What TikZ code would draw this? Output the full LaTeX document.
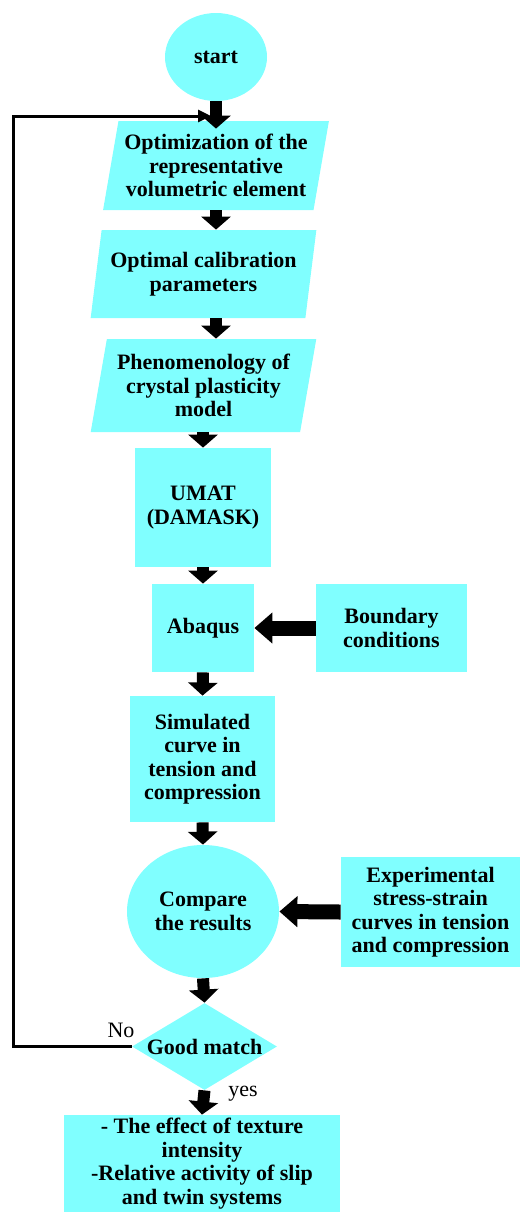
\documentclass[tikz,border=0pt]{standalone}
\usepackage{fontspec}
\setmainfont{Liberation Serif}
\usetikzlibrary{shapes.geometric,arrows.meta}
\definecolor{boxcyan}{RGB}{128,255,255}

\begin{document}
\begin{tikzpicture}[x=0.5pt,y=-0.5pt,
  every node/.style={font=\fontsize{11}{11.75}\selectfont\bfseries,align=center,inner sep=0pt},
  procbox/.style={rectangle,fill=boxcyan},
  iobox/.style={trapezium,trapezium left angle=77,trapezium right angle=103,
    trapezium stretches=true,fill=boxcyan,minimum width=113pt},
  termbox/.style={ellipse,fill=boxcyan},
  flow/.style={line width=6pt,-{Triangle[width=14.5pt,length=6.5pt]}},
  sideflow/.style={line width=7.5pt,-{Triangle[width=15pt,length=9pt]}},
  loopline/.style={line width=1.5pt,-{Triangle[width=6pt,length=6.5pt]}},
  answer/.style={font=\fontsize{11}{11.75}\selectfont}]
  \useasboundingbox (0,0) rectangle (520,1212);

  % Main column
  \node[termbox,minimum width=51pt,minimum height=44pt] (start) at (216,57) {start};
  \node[iobox,minimum height=44.5pt] (opt) at (216,165.5)
    {Optimization of the\\representative\\volumetric element};
  \node[iobox,minimum height=44pt] (calib) at (203.5,274)
    {Optimal calibration\\parameters};
  \node[iobox,minimum height=46.5pt] (pheno) at (203.5,385.5)
    {Phenomenology of\\crystal plasticity\\model};
  \node[procbox,minimum width=68pt,minimum height=59.5pt] (umat) at (203,507.5)
    {UMAT\\(DAMASK)};
  \node[procbox,minimum width=51pt,minimum height=44pt] (abaqus) at (203,628) {Abaqus};
  \node[procbox,minimum width=72.5pt,minimum height=63pt] (sim) at (202.5,759)
    {Simulated\\curve in\\tension and\\compression};
  \node[termbox,minimum width=76pt,minimum height=66.5pt] (comp) at (203,911.5)
    {Compare\\the results};
  \node[diamond,aspect=1.67,fill=boxcyan,minimum width=72.5pt,minimum height=43.5pt]
    (match) at (204.5,1046.5) {Good match};
  \node[procbox,minimum width=138pt,minimum height=48.5pt] (final) at (202,1163.5)
    {- The effect of texture\\intensity\\-Relative activity of slip\\and twin systems};

  % Side inputs
  \node[procbox,minimum width=75.5pt,minimum height=44pt] (bound) at (391.5,628)
    {Boundary\\conditions};
  \node[procbox,minimum width=89.5pt,minimum height=55pt] (exper) at (430.5,912)
    {Experimental\\stress-strain\\curves in tension\\and compression};

  % Decision labels
  \node[answer] (no) at (121,1030) {No};
  \node[answer] (yes) at (243,1094) {yes};

  % Feedback loop
  \coordinate (turn) at (13,116);
  \coordinate (back) at (211,116);
  \draw[loopline] (match.west) -| (turn) -- (back);

  % Flow arrows
  \draw[flow] (start.south) -- ([yshift=-4pt]start.south |- opt.north);
  \draw[flow] (start |- opt.south) -- (start |- calib.north);
  \draw[flow] (start |- calib.south) -- (start |- pheno.north);
  \draw[flow] (pheno.south -| umat.north) -- (umat.north);
  \draw[flow] (umat.south) -- (abaqus.north);
  \draw[flow] (abaqus.south) -- (sim.north);
  \draw[flow] (sim.south) -- (comp.north);
  \draw[flow] (comp.south) -- (match.north);
  \draw[flow] (match.south) -- (final.north);
  \draw[sideflow] (bound.west) -- (abaqus.east);
  \draw[sideflow] (exper.west) -- (comp.east);
\end{tikzpicture}
\end{document}
